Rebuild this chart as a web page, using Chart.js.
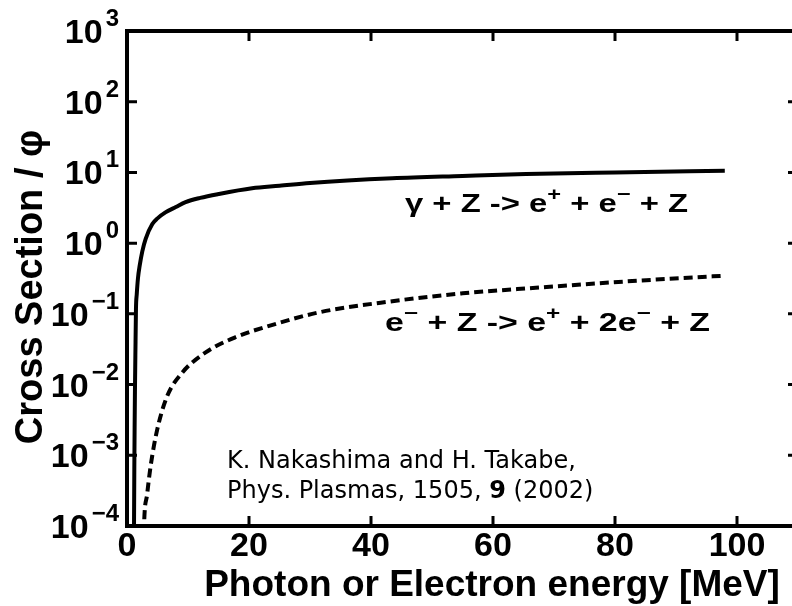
<!DOCTYPE html>
<html>
<head>
<meta charset="utf-8">
<script src="https://cdn.jsdelivr.net/npm/chart.js@4/dist/chart.umd.min.js"></script>
<style>
  html, body { margin: 0; padding: 0; background: #fff; overflow: hidden; }
  #wrap { width: 792px; height: 606px; overflow: hidden; }
  canvas { display: block; }
</style>
</head>
<body>
<div id="wrap"><canvas id="chart" width="812" height="606"></canvas></div>
<script>
// gamma + Z -> e+ + e- + Z  (solid)
let photonEnergy = [1.13, 1.2, 1.25, 1.3, 1.4, 1.47, 1.6, 1.8, 2.08, 2.5, 3.06, 4.15, 5.0, 6.3, 8.0, 9.6, 12, 15, 20.5, 25, 30, 43.5, 55, 65.4, 80, 98]
let photonSigma = [0.00005, 0.00063, 0.0025, 0.0079, 0.040, 0.117, 0.19, 0.32, 0.48, 0.76, 1.15, 1.86, 2.24, 2.72, 3.24, 3.80, 4.37, 4.95, 5.96, 6.46, 7.08, 8.26, 8.91, 9.48, 10.0, 10.57]

// e- + Z -> e+ + 2e- + Z  (dashed)
let electronEnergy = [2.72, 2.79, 3.3, 3.88, 4.97, 6.6, 9.07, 12.9, 17.8, 23.3, 31.5, 43.5, 55, 67, 82, 98]
let electronSigma = [0.00005, 0.0001, 0.00028, 0.00071, 0.00234, 0.0069, 0.0148, 0.0285, 0.0468, 0.0676, 0.105, 0.151, 0.195, 0.234, 0.288, 0.347]

let xTicks = [0, 20, 40, 60, 80, 100]
let yTicks = [1e3, 1e2, 1e1, 1e0, 1e-1, 1e-2, 1e-3, 1e-4]

let toPoints = (xs, ys) => xs.map((v, i) => ({x: v, y: ys[i]}))

const LS = '"Liberation Sans", Arial, sans-serif'

function drawRich(ctx, parts, x0, width, base, size) {
    let w = 0
    parts.forEach(p => {
        ctx.font = 'bold ' + (p[1] ? size * 0.72 : size) + 'px ' + LS
        w += ctx.measureText(p[0]).width
    })
    ctx.save()
    ctx.translate(x0, base)
    ctx.scale(width / w, 1)
    let cx = 0
    parts.forEach(p => {
        ctx.font = 'bold ' + (p[1] ? size * 0.72 : size) + 'px ' + LS
        ctx.fillText(p[0], cx, p[1] ? -size * 0.48 : 0)
        cx += ctx.measureText(p[0]).width
    })
    ctx.restore()
}

const frame = {
    id: 'frame',
    afterDraw(chart) {
        const {ctx, chartArea: a, scales: {x, y}} = chart
        ctx.save()
        ctx.strokeStyle = '#000'
        ctx.fillStyle = '#000'

        // tick marks, pointing inward on all four sides
        ctx.lineWidth = 3
        ctx.beginPath()
        y.ticks.forEach(t => {
            const py = y.getPixelForValue(t.value)
            ctx.moveTo(a.left, py); ctx.lineTo(a.left + 10, py)
            ctx.moveTo(a.right, py); ctx.lineTo(a.right - 10, py)
        })
        x.ticks.forEach(t => {
            const px = x.getPixelForValue(t.value)
            ctx.moveTo(px, a.bottom); ctx.lineTo(px, a.bottom - 10)
            ctx.moveTo(px, a.top); ctx.lineTo(px, a.top + 10)
        })
        ctx.stroke()

        ctx.lineWidth = 4
        ctx.strokeRect(a.left, a.top, a.right - a.left, a.bottom - a.top)

        // y tick labels 10^n
        ctx.textAlign = 'right'
        ctx.textBaseline = 'alphabetic'
        y.ticks.forEach(t => {
            const py = y.getPixelForValue(t.value)
            const e = Math.round(Math.log10(t.value))
            const expText = e < 0 ? '\u2212' + (-e) : '' + e
            ctx.font = 'bold 24px ' + LS
            ctx.fillText(expText, 119, py - 5)
            const w = ctx.measureText(expText).width
            ctx.font = 'bold 34px ' + LS
            ctx.fillText('10', 119 - w - 3, py + 12)
        })

        // axis titles
        ctx.textAlign = 'center'
        ctx.font = 'bold 37px ' + LS
        ctx.fillText('Photon or Electron energy [MeV]', 492, 596)
        ctx.save()
        ctx.translate(42, 287)
        ctx.rotate(-Math.PI / 2)
        ctx.font = 'bold 38px ' + LS
        ctx.fillText('Cross Section / \u03c6', 0, 0)
        ctx.restore()

        // reaction labels
        ctx.textAlign = 'left'
        drawRich(ctx, [['\u03b3 + Z -> e'], ['+', 1], [' + e'], ['\u2212', 1], [' + Z']], 405, 283, 212, 25)
        drawRich(ctx, [['e'], ['\u2212', 1], [' + Z -> e'], ['+', 1], [' + 2e'], ['\u2212', 1], [' + Z']], 385, 325, 331, 25)

        // reference note
        ctx.font = '24px "DejaVu Sans", sans-serif'
        ctx.fillText('K. Nakashima and H. Takabe,', 227, 468)
        let cx = 227
        const seg = [['Phys. Plasmas, 1505, ', ''], ['9', 'bold '], [' (2002)', '']]
        seg.forEach(s => {
            ctx.font = s[1] + '24px "DejaVu Sans", sans-serif'
            ctx.fillText(s[0], cx, 498)
            cx += ctx.measureText(s[0]).width
        })
        ctx.restore()
    }
}

new Chart(document.getElementById('chart'), {
    type: 'line',
    data: {
        datasets: [{
            data: toPoints(photonEnergy, photonSigma),
            borderColor: '#000',
            borderWidth: 4,
            pointRadius: 0,
            cubicInterpolationMode: 'monotone',
            clip: 0
        }, {
            data: toPoints(electronEnergy, electronSigma),
            borderColor: '#000',
            borderWidth: 4,
            borderDash: [9, 5],
            pointRadius: 0,
            cubicInterpolationMode: 'monotone',
            clip: 0
        }]
    },
    plugins: [frame],
    options: {
        responsive: false,
        animation: false,
        devicePixelRatio: 1,
        layout: {padding: {top: 31, right: 14, left: 0, bottom: 0}},
        plugins: {legend: {display: false}, tooltip: {enabled: false}},
        scales: {
            x: {
                type: 'linear',
                min: 0,
                max: 110,
                grid: {display: false, drawTicks: false},
                border: {display: false},
                afterBuildTicks: s => { s.ticks = xTicks.map(v => ({value: v})) },
                afterFit: s => { s.height = 80 },
                ticks: {
                    color: '#000',
                    padding: 0,
                    maxRotation: 0,
                    font: {family: LS, size: 34, weight: 'bold'}
                }
            },
            y: {
                type: 'logarithmic',
                min: 1e-4,
                max: 1e3,
                grid: {display: false, drawTicks: false},
                border: {display: false},
                afterBuildTicks: s => { s.ticks = yTicks.map(v => ({value: v})) },
                afterFit: s => { s.width = 127 },
                ticks: {display: false}
            }
        }
    }
})
</script>
</body>
</html>
